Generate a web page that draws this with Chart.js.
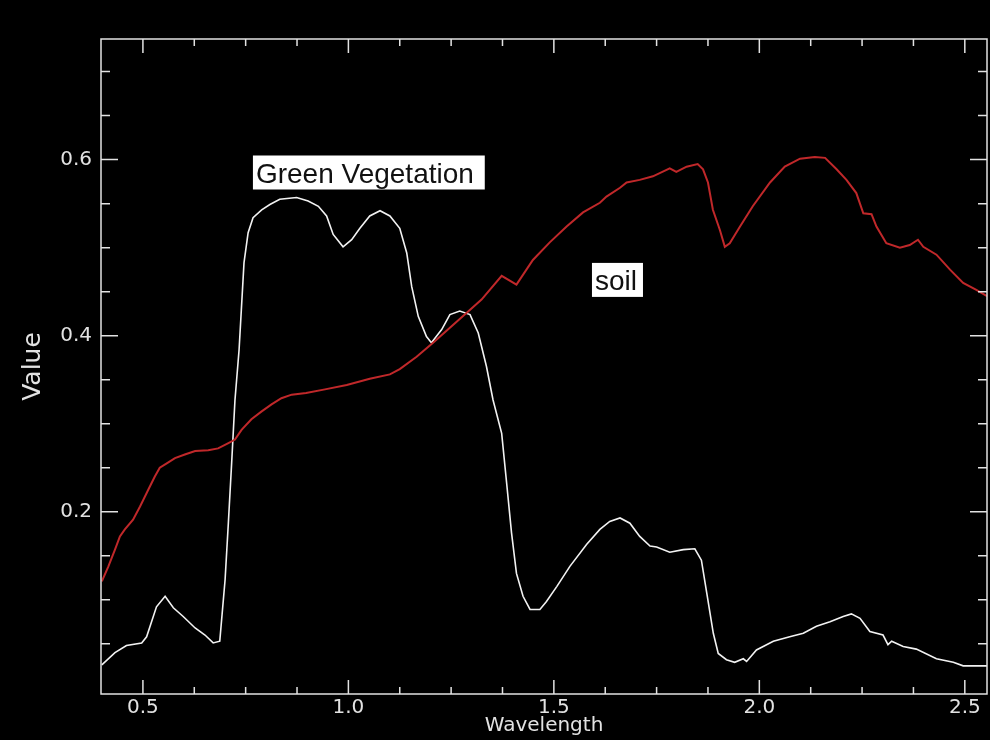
<!DOCTYPE html>
<html><head><meta charset="utf-8">
<script src="https://cdn.jsdelivr.net/npm/chart.js@4.4.1/dist/chart.umd.min.js"></script>
<style>html,body{margin:0;padding:0;background:#000;}canvas{display:block;}</style>
</head><body>
<canvas id="c" width="990" height="740"></canvas>
<script>
const vegX = [0.400,0.432,0.460,0.497,0.509,0.533,0.554,0.574,0.598,0.627,0.651,0.671,0.687,0.700,0.708,0.716,0.724,0.734,0.746,0.756,0.768,0.789,0.809,0.833,0.874,0.902,0.927,0.947,0.963,0.987,1.008,1.028,1.052,1.077,1.101,1.125,1.142,1.154,1.170,1.190,1.202,1.227,1.247,1.271,1.296,1.316,1.336,1.352,1.373,1.385,1.397,1.409,1.425,1.442,1.466,1.482,1.507,1.539,1.580,1.612,1.636,1.661,1.685,1.709,1.734,1.750,1.782,1.815,1.843,1.859,1.872,1.888,1.900,1.920,1.940,1.961,1.969,1.993,2.034,2.074,2.107,2.139,2.172,2.204,2.224,2.245,2.269,2.301,2.313,2.322,2.350,2.382,2.431,2.472,2.496,2.554];
const vegY = [0.026,0.040,0.048,0.051,0.058,0.092,0.104,0.091,0.081,0.068,0.060,0.051,0.053,0.123,0.188,0.256,0.327,0.384,0.483,0.517,0.534,0.543,0.549,0.555,0.557,0.553,0.547,0.536,0.515,0.501,0.509,0.522,0.536,0.542,0.536,0.522,0.494,0.456,0.422,0.399,0.392,0.407,0.424,0.428,0.424,0.403,0.365,0.327,0.289,0.233,0.176,0.130,0.104,0.089,0.089,0.098,0.115,0.138,0.163,0.180,0.189,0.193,0.187,0.172,0.161,0.160,0.154,0.157,0.158,0.145,0.108,0.062,0.039,0.032,0.029,0.033,0.030,0.043,0.053,0.058,0.062,0.070,0.075,0.081,0.084,0.079,0.064,0.060,0.049,0.053,0.047,0.044,0.033,0.029,0.025,0.025];
const soilX = [0.400,0.416,0.432,0.444,0.456,0.476,0.493,0.513,0.529,0.541,0.558,0.578,0.602,0.627,0.659,0.683,0.708,0.724,0.740,0.764,0.789,0.813,0.837,0.862,0.897,0.943,0.996,1.052,1.101,1.125,1.166,1.206,1.247,1.288,1.324,1.373,1.409,1.449,1.490,1.531,1.571,1.612,1.628,1.661,1.677,1.709,1.741,1.782,1.798,1.823,1.850,1.863,1.875,1.887,1.904,1.916,1.928,1.953,1.984,2.026,2.062,2.099,2.135,2.160,2.188,2.212,2.236,2.253,2.273,2.285,2.309,2.342,2.366,2.386,2.399,2.431,2.464,2.496,2.528,2.554];
const soilY = [0.121,0.138,0.157,0.172,0.180,0.191,0.206,0.225,0.240,0.250,0.255,0.261,0.265,0.269,0.270,0.272,0.278,0.282,0.293,0.305,0.314,0.322,0.329,0.333,0.335,0.339,0.344,0.351,0.356,0.362,0.376,0.392,0.409,0.426,0.441,0.468,0.458,0.486,0.506,0.524,0.540,0.551,0.558,0.568,0.574,0.577,0.581,0.590,0.586,0.592,0.595,0.589,0.574,0.543,0.520,0.501,0.505,0.524,0.547,0.574,0.592,0.601,0.603,0.602,0.589,0.577,0.562,0.539,0.538,0.524,0.505,0.500,0.503,0.509,0.501,0.492,0.475,0.460,0.452,0.445];

const xMajorTicks = [0.5, 1.0, 1.5, 2.0, 2.5];
const xTickLabels = ['0.5', '1.0', '1.5', '2.0', '2.5'];
const xMinorTicks = [0.625,0.75,0.875,1.125,1.25,1.375,1.625,1.75,1.875,2.125,2.25,2.375];
const yMajorTicks = [0.2, 0.4, 0.6];
const yTickLabels = ['0.2', '0.4', '0.6'];
const yMinorTicks = [0.05,0.1,0.15,0.25,0.3,0.35,0.45,0.5,0.55,0.65,0.7];
const X_MIN = 0.398, X_MAX = 2.554, Y_MIN = -0.007, Y_MAX = 0.737;

const annotations = [
  {text: 'Green Vegetation', x: 0.775, y: 0.574},
  {text: 'soil', x: 1.600, y: 0.452}
];

const AXIS_COLOR = '#e2e2e2';
const TICK_FONT = {family: '"DejaVu Sans", sans-serif', size: 20};

const frame = {
  id: 'frame',
  afterDatasetsDraw(chart) {
    const {ctx, chartArea: a, scales: {x, y}} = chart;
    ctx.save();
    ctx.strokeStyle = AXIS_COLOR;
    ctx.lineWidth = 1.5;
    ctx.strokeRect(a.left, a.top, a.right - a.left, a.bottom - a.top);
    ctx.beginPath();
    const xt = (v, len) => {
      const p = x.getPixelForValue(v);
      ctx.moveTo(p, a.bottom); ctx.lineTo(p, a.bottom - len);
      ctx.moveTo(p, a.top); ctx.lineTo(p, a.top + len);
    };
    const yt = (v, len) => {
      const p = y.getPixelForValue(v);
      ctx.moveTo(a.left, p); ctx.lineTo(a.left + len, p);
      ctx.moveTo(a.right, p); ctx.lineTo(a.right - len, p);
    };
    xMajorTicks.forEach(v => xt(v, 14));
    xMinorTicks.forEach(v => xt(v, 7));
    yMajorTicks.forEach(v => yt(v, 17));
    yMinorTicks.forEach(v => yt(v, 9));
    ctx.stroke();

    ctx.font = '28px "Liberation Sans", Arial, sans-serif';
    ctx.textBaseline = 'alphabetic';
    ctx.textAlign = 'left';
    annotations.forEach(l => {
      const px = x.getPixelForValue(l.x), py = y.getPixelForValue(l.y);
      const w = ctx.measureText(l.text).width;
      ctx.fillStyle = '#ffffff';
      ctx.fillRect(px - 3, py - 27, w + 3 + Math.max(6, w * 0.05), 34);
      ctx.fillStyle = '#111111';
      ctx.fillText(l.text, px, py);
    });
    ctx.restore();
  }
};

const zip = (xs, ys) => xs.map((v, i) => ({x: v, y: ys[i]}));

new Chart(document.getElementById('c'), {
  type: 'scatter',
  data: {
    datasets: [
      {label: 'soil', data: zip(soilX, soilY), showLine: true, borderColor: '#c0282a', borderWidth: 2, pointRadius: 0, tension: 0, fill: false},
      {label: 'Green Vegetation', data: zip(vegX, vegY), showLine: true, borderColor: '#f2f2f2', borderWidth: 1.6, pointRadius: 0, tension: 0, fill: false}
    ]
  },
  options: {
    responsive: false,
    animation: false,
    events: [],
    layout: {padding: {top: 39, right: 3, left: 0, bottom: 0}},
    plugins: {legend: {display: false}, tooltip: {enabled: false}},
    scales: {
      x: {
        type: 'linear', position: 'bottom', min: X_MIN, max: X_MAX,
        grid: {display: false, drawTicks: false}, border: {display: false},
        afterBuildTicks: s => { s.ticks = xMajorTicks.map(v => ({value: v})); },
        afterFit: s => { s.height = 46; },
        ticks: {color: AXIS_COLOR, font: TICK_FONT, padding: 2, maxRotation: 0, autoSkip: false,
                callback: (v, i) => xTickLabels[i]},
        title: {display: true, text: 'Wavelength', color: AXIS_COLOR, font: TICK_FONT, padding: {top: 0, bottom: 2}}
      },
      y: {
        type: 'linear', position: 'left', min: Y_MIN, max: Y_MAX,
        grid: {display: false, drawTicks: false}, border: {display: false},
        afterBuildTicks: s => { s.ticks = yMajorTicks.map(v => ({value: v})); },
        afterFit: s => { s.width = 101; },
        ticks: {color: AXIS_COLOR, font: TICK_FONT, padding: 9, autoSkip: false,
                callback: (v, i) => yTickLabels[i]},
        title: {display: true, text: 'Value', color: AXIS_COLOR, font: {family: '"DejaVu Sans", sans-serif', size: 25}, padding: {top: 18, bottom: 0}}
      }
    }
  },
  plugins: [frame]
});
</script>
</body></html>
